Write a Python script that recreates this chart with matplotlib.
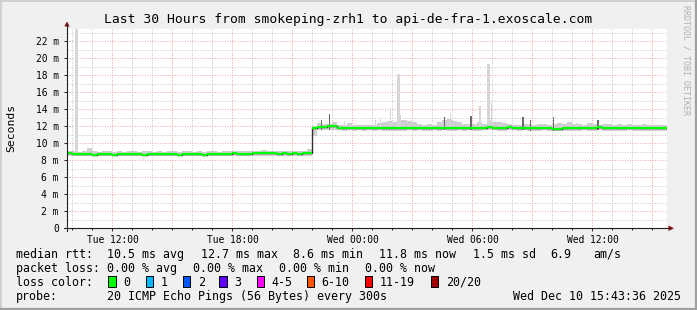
import numpy as np
import matplotlib
matplotlib.use("Agg")
import matplotlib.pyplot as plt
from matplotlib.lines import Line2D
from matplotlib.patches import Rectangle, Polygon

W, H = 697, 310
plt.rcParams['font.family'] = ['DejaVu Sans Mono']

# x axis in hours since Tue 00:00, window of 30h ending Wed 15:43:36
t_start = 9 + 43 / 60 + 36 / 3600
t_end = t_start + 30
step = 0.25   # one sample per 15 minutes

# median rtt (ms), 120 samples
median = [
    8.80, 8.70, 8.70, 8.75, 8.70, 8.65, 8.70, 8.70, 8.70, 8.65,
    8.70, 8.70, 8.75, 8.70, 8.70, 8.65, 8.70, 8.70, 8.70, 8.75,
    8.70, 8.70, 8.65, 8.70, 8.70, 8.70, 8.70, 8.65, 8.70, 8.75,
    8.70, 8.70, 8.70, 8.90, 8.75, 8.75, 8.70, 8.80, 8.80, 8.85,
    8.90, 8.80, 8.75, 8.80, 8.75, 8.80, 8.75, 8.80, 8.80,
    11.85, 11.90, 11.95, 12.05, 12.00, 11.85, 11.80, 11.85, 11.80, 11.85,
    11.80, 11.85, 11.80, 11.85, 11.80, 11.85, 11.75, 11.75, 11.80, 11.85,
    11.80, 11.85, 11.80, 11.80, 11.85, 11.80, 11.85, 11.75, 11.80, 11.85,
    11.80, 11.85, 11.80, 11.80, 11.85, 11.90, 11.85, 11.80, 11.80, 11.95,
    11.85, 11.80, 11.85, 11.80, 11.75, 11.80, 11.85, 11.80, 11.70, 11.70,
    11.75, 11.80, 11.75, 11.80, 11.85, 11.80, 11.75, 11.95, 11.80, 11.75,
    11.80, 11.80, 11.75, 11.85, 11.80, 11.80, 11.75, 11.80, 11.80, 11.75,
    11.75,
]

# highest ping per sample (light smoke top)
smoke_hi = [
    9.05, 9.10, 9.00, 9.05, 9.40, 9.05, 9.00, 9.05, 9.10, 9.00,
    9.05, 9.00, 9.10, 9.05, 9.00, 9.05, 9.10, 9.00, 9.05, 9.00,
    9.10, 9.05, 9.00, 9.05, 9.10, 9.00, 9.05, 9.00, 9.05, 9.10,
    9.00, 9.05, 9.10, 9.15, 9.05, 9.10, 9.05, 9.15, 9.10, 9.20,
    9.15, 9.10, 9.05, 9.10, 9.05, 9.10, 9.05, 9.10, 9.30,
    12.00, 12.35, 12.25, 12.30, 12.45, 12.20, 12.20, 12.35, 12.15, 12.20,
    12.15, 12.20, 12.15, 12.40, 12.55, 12.60, 12.50, 12.70, 12.75, 12.60,
    12.45, 12.25, 12.20, 12.30, 12.20, 12.45, 12.70, 12.80, 12.60, 12.50,
    12.30, 12.25, 12.30, 12.45, 12.30, 12.60, 12.55, 12.45, 12.35, 12.30,
    12.20, 12.20, 12.25, 12.30, 12.20, 12.25, 12.30, 12.20, 12.25, 12.35,
    12.25, 12.45, 12.30, 12.25, 12.20, 12.40, 12.30, 12.20, 12.25, 12.30,
    12.20, 12.25, 12.20, 12.25, 12.20, 12.20, 12.25, 12.20, 12.15, 12.20,
    12.15,
]

# lowest ping per sample
smoke_lo = [
    8.50, 8.50, 8.45, 8.50, 8.50, 8.45, 8.50, 8.50, 8.50, 8.45,
    8.50, 8.50, 8.50, 8.45, 8.50, 8.50, 8.45, 8.50, 8.50, 8.50,
    8.45, 8.50, 8.50, 8.50, 8.45, 8.50, 8.50, 8.50, 8.45, 8.50,
    8.50, 8.50, 8.45, 8.50, 8.50, 8.50, 8.50, 8.55, 8.50, 8.55,
    8.55, 8.50, 8.55, 8.50, 8.55, 8.50, 8.55, 8.50, 8.55,
    10.80, 11.55, 11.60, 11.55, 11.60, 11.55, 11.50, 11.55, 11.50, 11.55,
    11.50, 11.55, 11.50, 11.55, 11.50, 11.50, 11.45, 11.50, 11.50, 11.55,
    11.50, 11.55, 11.50, 11.50, 11.55, 11.50, 11.55, 11.45, 11.50, 11.55,
    11.50, 11.55, 11.50, 11.50, 11.55, 11.55, 11.55, 11.50, 11.50, 11.60,
    11.55, 11.50, 11.55, 11.50, 11.45, 11.50, 11.55, 11.50, 11.45, 11.45,
    11.45, 11.50, 11.45, 11.50, 11.55, 11.50, 11.45, 11.60, 11.50, 11.45,
    11.50, 11.50, 11.45, 11.55, 11.50, 11.50, 11.45, 11.50, 11.50, 11.45,
    11.45,
]

# narrow spikes in the smoke: hour, top (ms), dark or light
spike_t = [10.21, 22.46, 22.86, 23.61, 25.16, 25.41, 25.91, 26.29, 26.41,
           28.61, 28.91, 29.94, 30.37, 30.79, 30.96, 32.54, 32.91, 34.06,
           35.24, 36.29]
spike_top = [23.5, 12.7, 13.4, 12.6, 12.7, 13.0, 14.1, 18.1, 13.3,
             13.1, 13.6, 13.2, 14.4, 19.3, 14.7, 13.1, 12.7, 13.1,
             12.4, 12.7]
spike_dark = [0, 1, 1, 0, 0, 0, 0, 0, 0,
              1, 0, 1, 0, 0, 0, 1, 1, 1,
              0, 1]

xtick_hours = [12, 18, 24, 30, 36]
xtick_labels = ['Tue 12:00', 'Tue 18:00', 'Wed 00:00', 'Wed 06:00', 'Wed 12:00']
ytick_vals = [0, 2, 4, 6, 8, 10, 12, 14, 16, 18, 20, 22]
ytick_labels = ['0', '2 m', '4 m', '6 m', '8 m', '10 m', '12 m', '14 m',
                '16 m', '18 m', '20 m', '22 m']

loss_names = ['0', '1', '2', '3', '4-5', '6-10', '11-19', '20/20']
loss_colors = ['#00ff00', '#00b8ff', '#0059ff', '#5e00ff', '#ff00ff',
               '#ff5500', '#ff0000', '#a10000']


def fx(px):
    return px / W


def fy(py):
    return 1 - py / H


fig = plt.figure(figsize=(W / 100, H / 100), dpi=100, facecolor='#f0f0f0')
ax = fig.add_axes([fx(67), fy(228.3), 600 / W, 199.8 / H])
ax.set_facecolor('white')
ax.set_xlim(t_start, t_end)
ax.set_ylim(0, 23.5)
for s in ax.spines.values():
    s.set_visible(False)

# grid: minor grey, major red
dots = (0, (1, 1.5))
for h in range(10, 40):
    c = '#efa7a7' if h % 3 == 0 else '#c8c8c8'
    ax.axvline(h, color=c, lw=0.72, ls=dots, zorder=0.5)
for v in range(1, 24):
    c = '#efa7a7' if v % 2 == 0 else '#c8c8c8'
    ax.axhline(v, color=c, lw=0.72, ls=dots, zorder=0.5)

n = len(median)
edges = t_start + step * np.arange(n + 1)
med = np.array(median + [median[-1]])
hi = np.array(smoke_hi + [smoke_hi[-1]])
lo = np.array(smoke_lo + [smoke_lo[-1]])

# smoke
ax.fill_between(edges, lo, hi, step='post', color='#cfcfcf', lw=0, zorder=1)
for t, top, dark in zip(spike_t, spike_top, spike_dark):
    i = min(int((t - t_start) / step), n - 1)
    w = 0.15 if top > 17 else 0.08
    ax.bar(t, top - smoke_lo[i], width=w, bottom=smoke_lo[i],
           color='#6a6a6a' if dark else '#d6d6d6', lw=0, zorder=1.5)

# median: thin black step (shows on the jump), green segments on top
ax.step(edges, med, where='post', color='#303030', lw=1.0, zorder=2)
ax.hlines(median, edges[:-1], edges[1:], color='#00ff00', lw=1.6, zorder=3)

ax.set_xticks(xtick_hours, xtick_labels)
ax.set_xticks(np.arange(10, 40), minor=True)
ax.set_yticks(ytick_vals, ytick_labels)
ax.tick_params(axis='both', which='both', labelsize=6.9, color='#202020',
               length=2, width=0.7)
ax.tick_params(axis='x', which='minor', length=1.5)
ax.tick_params(axis='y', pad=4)
ax.tick_params(axis='x', pad=3)

# axes with arrows
fig.add_artist(Line2D([fx(67), fx(67)], [fy(231), fy(25)], color='#202020', lw=0.8))
fig.add_artist(Line2D([fx(64), fx(669)], [fy(228.3), fy(228.3)], color='#202020', lw=0.8))
fig.add_artist(Polygon([[fx(64.3), fy(26.5)], [fx(69.7), fy(26.5)], [fx(67), fy(21.5)]],
                       closed=True, color='#801010', lw=0))
fig.add_artist(Polygon([[fx(668.5), fy(225.5)], [fx(668.5), fy(231)], [fx(674), fy(228.3)]],
                       closed=True, color='#801010', lw=0))

# frame bevel
fig.add_artist(Line2D([0, 1], [fy(0.5), fy(0.5)], color='#d0d0d0', lw=1.4))
fig.add_artist(Line2D([fx(0.5), fx(0.5)], [0, 1], color='#d0d0d0', lw=1.4))
fig.add_artist(Line2D([0, 1], [fy(309), fy(309)], color='#a0a0a0', lw=1.6))
fig.add_artist(Line2D([fx(696), fx(696)], [0, 1], color='#a0a0a0', lw=1.6))

fig.text(fx(348), fy(19), 'Last 30 Hours from smokeping-zrh1 to api-de-fra-1.exoscale.com',
         ha='center', va='center', size=9.4)
fig.text(fx(11), fy(128), 'Seconds', rotation=90, ha='center', va='center', size=8.2)
fig.text(fx(686), fy(5), 'RRDTOOL / TOBI OETIKER', rotation=-90, ha='center', va='top',
         size=6, color='#b0b0b0')

# legend block
fs = 8.4
rows = [
    (254.3, [(16, 'median rtt:'), (107.3, '10.5 ms avg'), (200.7, '12.7 ms max'),
             (293.3, '8.6 ms min'), (379.3, '11.8 ms now'), (472.7, '1.5 ms sd'),
             (550.7, '6.9'), (593.3, 'am/s')]),
    (268.3, [(16, 'packet loss:'), (107.3, '0.00 % avg'), (193.3, '0.00 % max'),
             (279.3, '0.00 % min'), (365, '0.00 % now')]),
    (282, [(16, 'loss color:')]),
    (296.7, [(16, 'probe:'), (107.3, '20 ICMP Echo Pings (56 Bytes) every 300s')]),
]
for y, items in rows:
    for x, s in items:
        fig.text(fx(x), fy(y), s, ha='left', va='center', size=fs)
fig.text(fx(681), fy(296.7), 'Wed Dec 10 15:43:36 2025', ha='right', va='center', size=fs)

box_x = [108.3, 145.7, 182.7, 219.3, 256.7, 306.7, 365, 430.7]
for bx, name, col in zip(box_x, loss_names, loss_colors):
    fig.add_artist(Rectangle((fx(bx), fy(287.3)), 7.4 / W, 11 / H, facecolor=col,
                             edgecolor='black', lw=0.7))
    fig.text(fx(bx + 15), fy(282), name, ha='left', va='center', size=fs)

fig.savefig('out.png', dpi=100, facecolor=fig.get_facecolor())
